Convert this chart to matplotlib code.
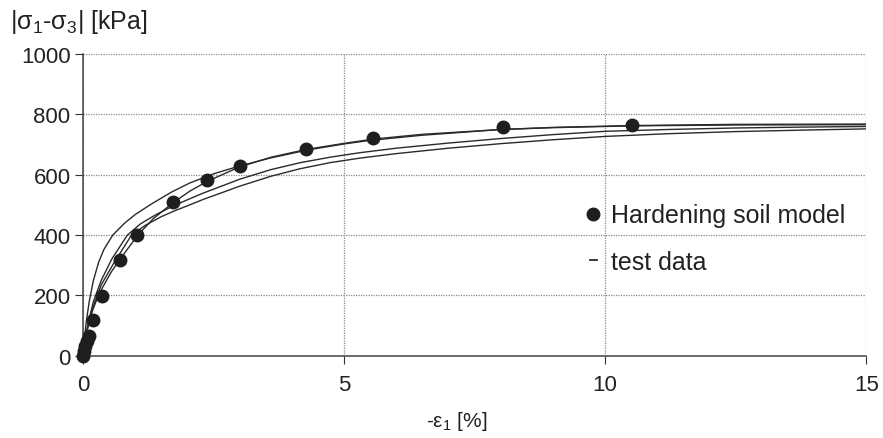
import matplotlib
matplotlib.use("Agg")
import matplotlib.pyplot as plt
from matplotlib.lines import Line2D

plt.rcParams['font.family'] = ['Liberation Sans', 'DejaVu Sans']
plt.rcParams['mathtext.fontset'] = 'custom'
plt.rcParams['mathtext.rm'] = 'Liberation Sans'
plt.rcParams['mathtext.it'] = 'Liberation Sans'

# Hardening soil model: axial strain [%] and deviatoric stress [kPa]
model_strain = [0, 0.02, 0.04, 0.08, 0.12, 0.19, 0.37, 0.71, 1.04, 1.73, 2.38, 3.01,
                4.28, 5.55, 8.05, 10.52]
model_stress = [0, 15, 33, 50, 66, 119, 197, 317, 400, 510, 581, 628,
                686, 721, 757, 765]

# Triaxial test data (four specimens)
test1_strain = [0, 0.02, 0.06, 0.12, 0.2, 0.3, 0.4, 0.57, 0.8, 1.0, 1.31, 1.7, 2.05,
                2.5, 3.0, 3.6, 4.3, 5.0, 5.5, 6.5, 8.0, 9.0, 10.5, 12.5, 15.0]
test1_stress = [0, 40, 110, 180, 250, 310, 352, 400, 440, 468, 503, 543, 573,
                603, 629, 656, 682, 702, 714, 731, 750, 757, 763, 767, 768]

test2_strain = [0, 0.03, 0.08, 0.15, 0.25, 0.37, 0.55, 0.71, 0.88, 1.04, 1.35, 1.73, 2.05,
                2.38, 3.0, 3.6, 4.28, 5.0, 5.55, 6.5, 8.0, 9.0, 10.5, 12.5, 15.0]
test2_stress = [0, 40, 85, 135, 180, 225, 280, 320, 360, 398, 455, 508, 546,
                578, 626, 658, 684, 704, 718, 734, 750, 756, 762, 765, 766]

test3_strain = [0, 0.04, 0.1, 0.2, 0.35, 0.55, 0.85, 1.1, 1.4, 1.7, 2.0, 2.3, 2.62, 3.0,
                3.6, 4.16, 4.73, 5.3, 6.0, 7.0, 8.0, 9.0, 10.0, 11.2, 12.5, 13.8, 15.0]
test3_stress = [0, 50, 110, 180, 250, 320, 400, 437, 468, 494, 517, 539, 560, 585,
                617, 640, 658, 673, 688, 705, 720, 733, 744, 750, 755, 758, 760]

test4_strain = [0, 0.04, 0.1, 0.2, 0.35, 0.6, 0.93, 1.2, 1.5, 1.75, 2.0, 2.3, 2.62, 3.0,
                3.6, 4.16, 4.73, 5.3, 6.0, 7.0, 8.0, 9.0, 10.0, 11.2, 12.5, 13.8, 15.0]
test4_stress = [0, 45, 100, 165, 235, 310, 400, 433, 461, 480, 497, 518, 538, 562,
                595, 620, 640, 655, 670, 688, 703, 716, 727, 736, 743, 748, 752]

x_ticks = [0, 5, 10, 15]
y_ticks = [0, 200, 400, 600, 800, 1000]

fig = plt.figure(figsize=(8.83, 4.39), dpi=100)
ax = fig.add_axes([0.094, 0.1875, 0.887, 0.687])

ax.set_xlim(0, 15)
ax.set_ylim(0, 1000)
ax.set_xticks(x_ticks)
ax.set_yticks(y_ticks)
ax.tick_params(labelsize=16, length=6, width=0.8, color='#333333',
               labelcolor='#222222')
ax.tick_params(axis='x', pad=7)
ax.tick_params(axis='y', pad=3)

ax.grid(True, linestyle=(0, (1, 1)), color='#8a8a8a', linewidth=0.9)
ax.set_axisbelow(True)
for side in ('top', 'right'):
    ax.spines[side].set_visible(False)
for side in ('left', 'bottom'):
    ax.spines[side].set_color('#444444')
    ax.spines[side].set_linewidth(1.1)

line_kw = dict(color='#2a2a2a', linewidth=1.0)
for xs, ys in [(test1_strain, test1_stress), (test2_strain, test2_stress),
               (test3_strain, test3_stress), (test4_strain, test4_stress)]:
    ax.plot(xs, ys, **line_kw)

ax.plot(model_strain, model_stress, linestyle='none', marker='o', markersize=9,
        color='#1e1e1e', clip_on=False, zorder=5)

handles = [Line2D([], [], linestyle='none', marker='o', markersize=9, color='#1e1e1e'),
           Line2D([], [], color='#2a2a2a', linewidth=1.3)]
ax.legend(handles, ['Hardening soil model', 'test data'], loc='upper left',
          bbox_to_anchor=(0.618, 0.58), frameon=False, fontsize=18,
          handlelength=0.3, handletextpad=0.55, labelspacing=0.9,
          labelcolor='#222222')

fig.text(457 / 883, 1 - 422 / 439, r'-ε$_1$ [%]', fontsize=15, color='#222222',
         ha='center', va='center')
fig.text(0.011, 1 - 22 / 439, r'|σ$_1$-σ$_3$| [kPa]', fontsize=18, color='#222222',
         ha='left', va='center')

fig.savefig('out.png', dpi=100)
